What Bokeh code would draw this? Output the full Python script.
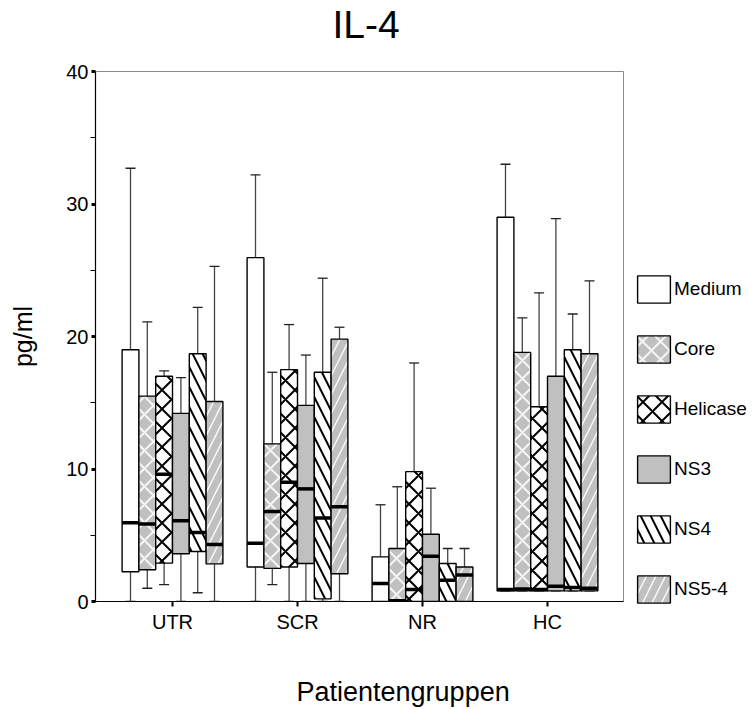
from bokeh.plotting import figure
from bokeh.models import ColumnDataSource, Range1d, FixedTicker, Legend, LegendItem, Title
from bokeh.embed import file_html
from bokeh.resources import INLINE

groups = ["UTR", "SCR", "NR", "HC"]
series = ["Medium", "Core", "Helicase", "NS3", "NS4", "NS5-4"]

# rows follow `series`, columns follow `groups` (pg/ml)
lower_whisker = [
    [0.0, 0.0, 0.0, 0.8],
    [1.0, 1.28, 0.0, 0.8],
    [1.27, 0.0, 0.0, 0.8],
    [0.0, 0.0, 0.0, 0.8],
    [0.66, 0.0, 0.0, 0.8],
    [0.0, 0.0, 0.0, 0.8],
]
q1 = [
    [2.25, 2.6, 0.0, 0.8],
    [2.4, 2.5, 0.0, 0.8],
    [2.9, 2.6, 0.0, 0.8],
    [3.6, 2.87, 0.0, 0.8],
    [3.77, 0.2, 0.0, 0.8],
    [2.84, 2.1, 0.0, 0.8],
]
median = [
    [5.95, 4.4, 1.35, 0.9],
    [5.85, 6.8, 0.05, 0.95],
    [9.6, 9.0, 0.9, 0.9],
    [6.1, 8.5, 3.42, 1.15],
    [5.2, 6.3, 1.6, 1.05],
    [4.3, 7.15, 2.0, 1.0],
]
q3 = [
    [19.0, 25.95, 3.37, 29.0],
    [15.5, 11.9, 4.0, 18.8],
    [17.0, 17.5, 9.8, 14.7],
    [14.2, 14.8, 5.08, 17.0],
    [18.7, 17.3, 2.87, 19.0],
    [15.1, 19.8, 2.6, 18.7],
]
upper_whisker = [
    [32.7, 32.2, 7.3, 33.0],
    [21.1, 17.3, 8.66, 21.4],
    [17.4, 20.9, 18.0, 23.3],
    [16.9, 18.6, 8.55, 28.9],
    [22.2, 24.4, 4.0, 21.7],
    [25.3, 20.7, 4.0, 24.2],
]

GRAY = "#c0c0c0"
styles = [
    dict(fill_color="white", hatch_pattern=None),
    dict(fill_color=GRAY, hatch_pattern="x", hatch_color="white", hatch_scale=18, hatch_weight=2, hatch_alpha=0.85),
    dict(fill_color="white", hatch_pattern="x", hatch_color="black", hatch_scale=19, hatch_weight=2),
    dict(fill_color=GRAY, hatch_pattern=None),
    dict(fill_color="white", hatch_pattern="\\", hatch_color="black", hatch_scale=20, hatch_weight=2),
    dict(fill_color=GRAY, hatch_pattern="/", hatch_color="white", hatch_scale=19, hatch_weight=1.5, hatch_alpha=0.9),
]

BOX_W = 0.1344
CAP_W = 0.08

p = figure(frame_width=528, frame_height=530,
           x_range=Range1d(-0.616, 3.608), y_range=Range1d(0, 40),
           output_backend="svg", toolbar_location=None,
           min_border_left=95, min_border_right=130, min_border_top=0, min_border_bottom=0)
p.background_fill_color = "white"
p.border_fill_color = "white"
p.outline_line_color = "#8a8a8a"
p.outline_line_width = 1
p.xgrid.visible = False
p.ygrid.visible = False

# title (outermost panel above) and a blank spacer between it and the frame
p.title.text = "IL-4"
p.title.align = "left"
p.title.offset = 237
p.title.vertical_align = "top"
p.title.standoff = 4
p.title.text_font = "Liberation Sans"
p.title.text_font_size = "39px"
p.title.text_font_style = "normal"
p.title.text_color = "black"
p.add_layout(Title(text=" ", text_font_size="10px", standoff=9), "above")

items = []
for k, name in enumerate(series):
    xs = [g + (k - 2.5) * BOX_W for g in range(len(groups))]
    src = ColumnDataSource(dict(
        x=xs, lo=lower_whisker[k], q1=q1[k], med=median[k], q3=q3[k], hi=upper_whisker[k],
        x0=[x - BOX_W / 2 for x in xs], x1=[x + BOX_W / 2 for x in xs],
        c0=[x - CAP_W / 2 for x in xs], c1=[x + CAP_W / 2 for x in xs],
    ))
    p.segment(x0="x", y0="q3", x1="x", y1="hi", source=src, line_color="#454545", line_width=1.3)
    p.segment(x0="x", y0="lo", x1="x", y1="q1", source=src, line_color="#454545", line_width=1.3)
    p.segment(x0="c0", y0="hi", x1="c1", y1="hi", source=src, line_color="#222222", line_width=1.3)
    p.segment(x0="c0", y0="lo", x1="c1", y1="lo", source=src, line_color="#222222", line_width=1.3)
    st = styles[k]
    kw = dict(fill_color=st["fill_color"])
    if st["hatch_pattern"]:
        kw.update(hatch_pattern=st["hatch_pattern"], hatch_color=st["hatch_color"],
                  hatch_scale=st["hatch_scale"], hatch_weight=st["hatch_weight"],
                  hatch_alpha=st.get("hatch_alpha", 1.0))
    r = p.vbar(x="x", width=BOX_W, bottom="q1", top="q3", source=src,
               line_color="black", line_width=1.4, **kw)
    p.segment(x0="x0", y0="med", x1="x1", y1="med", source=src, line_color="black", line_width=3.5)
    items.append(LegendItem(label=name, renderers=[r]))

legend = Legend(items=items, location=(10, -5), glyph_width=41, glyph_height=34, spacing=26,
                padding=0, margin=0, label_standoff=0, border_line_color=None,
                background_fill_alpha=0, label_text_font="Liberation Sans",
                label_text_font_size="19px", label_text_color="black")
p.add_layout(legend, "right")

# axes
p.yaxis.ticker = FixedTicker(ticks=[0, 10, 20, 30, 40], minor_ticks=[5, 15, 25, 35])
p.yaxis.axis_line_color = "black"
p.yaxis.axis_line_width = 1.2
p.yaxis.major_tick_in = 0
p.yaxis.major_tick_out = 4
p.yaxis.major_tick_line_width = 3
p.yaxis.minor_tick_in = 0
p.yaxis.minor_tick_out = 5
p.yaxis.minor_tick_line_width = 1
p.yaxis.major_label_standoff = 2
p.yaxis.major_label_text_font = "Liberation Sans"
p.yaxis.major_label_text_font_size = "20px"
p.yaxis.major_label_text_color = "black"
p.yaxis.axis_label = "pg/ml"
p.yaxis.axis_label_text_font = "Liberation Sans"
p.yaxis.axis_label_text_font_size = "25px"
p.yaxis.axis_label_text_font_style = "normal"
p.yaxis.axis_label_text_color = "black"
p.yaxis.axis_label_standoff = 26

p.xaxis.ticker = FixedTicker(ticks=list(range(len(groups))))
p.xaxis.major_label_overrides = {i: g for i, g in enumerate(groups)}
p.xaxis.axis_line_color = "black"
p.xaxis.axis_line_width = 1.2
p.xaxis.major_tick_in = 0
p.xaxis.major_tick_out = 5
p.xaxis.major_tick_line_width = 2
p.xaxis.minor_tick_out = 0
p.xaxis.minor_tick_in = 0
p.xaxis.major_label_standoff = 4
p.xaxis.major_label_text_font = "Liberation Sans"
p.xaxis.major_label_text_font_size = "20px"
p.xaxis.major_label_text_color = "black"

# spacer below the axis, then the x-axis title
p.add_layout(Title(text=" ", text_font_size="10px", standoff=23), "below")
xlabel = Title(text="Patientengruppen", align="left", offset=201, standoff=6,
               vertical_align="bottom",
               text_font="Liberation Sans", text_font_size="27px", text_font_style="normal",
               text_color="black")
p.add_layout(xlabel, "below")

open("out.html", "w").write(file_html(p, INLINE))
